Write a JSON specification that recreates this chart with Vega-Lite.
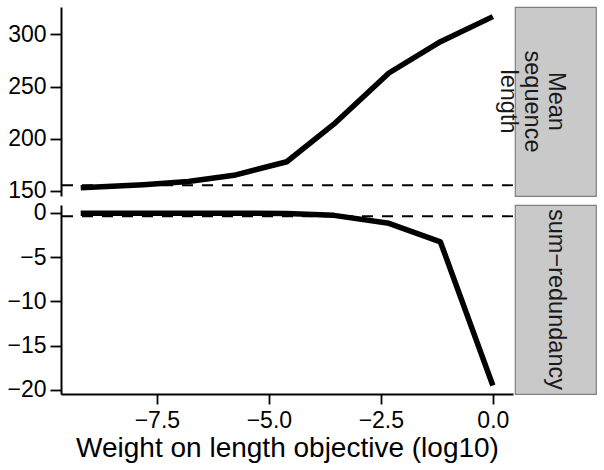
{
  "$schema": "https://vega.github.io/schema/vega-lite/v6.json",
  "padding": {"left": 6, "top": 6, "right": 5, "bottom": 5},
  "background": "white",
  "config": {
    "font": "Liberation Sans",
    "axis": {"grid": false, "domainColor": "black", "domainWidth": 2, "tickColor": "black", "tickWidth": 1.8, "tickSize": 11, "labelColor": "black", "labelFontSize": 23, "labelFont": "Liberation Sans", "labelPadding": 4, "titleColor": "black", "titleFont": "Liberation Sans"},
    "view": {"stroke": null}
  },
  "datasets": {
    "length": [
      {"w": -9.2, "value": 153},
      {"w": -7.8, "value": 156},
      {"w": -6.8, "value": 159},
      {"w": -5.78, "value": 165},
      {"w": -4.6, "value": 178},
      {"w": -3.55, "value": 214},
      {"w": -2.32, "value": 263},
      {"w": -1.17, "value": 293},
      {"w": 0, "value": 317}
    ],
    "redundancy": [
      {"w": -9.2, "value": -0.05},
      {"w": -7.8, "value": -0.05},
      {"w": -6.8, "value": -0.05},
      {"w": -5.78, "value": -0.05},
      {"w": -4.6, "value": -0.1},
      {"w": -3.55, "value": -0.3},
      {"w": -2.32, "value": -1.2},
      {"w": -1.17, "value": -3.3},
      {"w": 0, "value": -19.5}
    ],
    "refs": [
      {"metric": "length", "ref": 155.5},
      {"metric": "redundancy", "ref": -0.4}
    ],
    "strip1": [{"label": ["Mean", "sequence", "length"]}],
    "strip2": [{"label": "sum−redundancy"}]
  },
  "spacing": -2,
  "vconcat": [
    {
      "bounds": "flush",
      "spacing": 2,
      "hconcat": [
        {
          "width": 452,
          "height": 189,
          "layer": [
            {
              "data": {"name": "refs"},
              "transform": [{"filter": "datum.metric === 'length'"}],
              "mark": {"type": "rule", "color": "black", "strokeWidth": 1.8, "strokeDash": [11, 9]},
              "encoding": {"y": {"field": "ref", "type": "quantitative"}}
            },
            {
              "data": {"name": "length"},
              "mark": {"type": "line", "color": "black", "strokeWidth": 5.5, "strokeCap": "butt", "strokeJoin": "round"},
              "encoding": {
                "x": {"field": "w", "type": "quantitative", "scale": {"domain": [-9.64, 0.45], "nice": false, "zero": false}, "axis": null},
                "y": {"field": "value", "type": "quantitative", "scale": {"domain": [145.2, 326.2], "nice": false, "zero": false}, "axis": {"title": null, "values": [150, 200, 250, 300]}}
              }
            }
          ]
        },
        {
          "width": 81,
          "height": 189,
          "view": {"fill": "#c9c9c9", "stroke": "#7f7f7f", "strokeWidth": 1.2},
          "data": {"name": "strip1"},
          "mark": {"type": "text", "angle": 90, "fontSize": 23.5, "color": "#1a1a1a", "lineHeight": 24, "align": "center", "baseline": "middle"},
          "encoding": {"text": {"field": "label"}}
        }
      ]
    },
    {
      "bounds": "flush",
      "spacing": 2,
      "hconcat": [
        {
          "width": 452,
          "height": 189,
          "layer": [
            {
              "data": {"name": "refs"},
              "transform": [{"filter": "datum.metric === 'redundancy'"}],
              "mark": {"type": "rule", "color": "black", "strokeWidth": 1.8, "strokeDash": [11, 9]},
              "encoding": {"y": {"field": "ref", "type": "quantitative"}}
            },
            {
              "data": {"name": "redundancy"},
              "mark": {"type": "line", "color": "black", "strokeWidth": 5.5, "strokeCap": "butt", "strokeJoin": "round"},
              "encoding": {
                "x": {"field": "w", "type": "quantitative", "scale": {"domain": [-9.64, 0.45], "nice": false, "zero": false}, "axis": {"title": "Weight on length objective (log10)", "titleFontSize": 28, "titleFontWeight": "normal", "titlePadding": 2, "tickSize": 10, "labelPadding": 5, "values": [-7.5, -5, -2.5, 0], "format": ".1f"}},
                "y": {"field": "value", "type": "quantitative", "scale": {"domain": [-20.46, 0.87], "nice": false, "zero": false}, "axis": {"title": null, "values": [0, -5, -10, -15, -20]}}
              }
            }
          ]
        },
        {
          "width": 81,
          "height": 189,
          "view": {"fill": "#c9c9c9", "stroke": "#7f7f7f", "strokeWidth": 1.2},
          "data": {"name": "strip2"},
          "mark": {"type": "text", "angle": 90, "fontSize": 23.5, "color": "#1a1a1a", "align": "center", "baseline": "middle"},
          "encoding": {"text": {"field": "label"}}
        }
      ]
    }
  ]
}
